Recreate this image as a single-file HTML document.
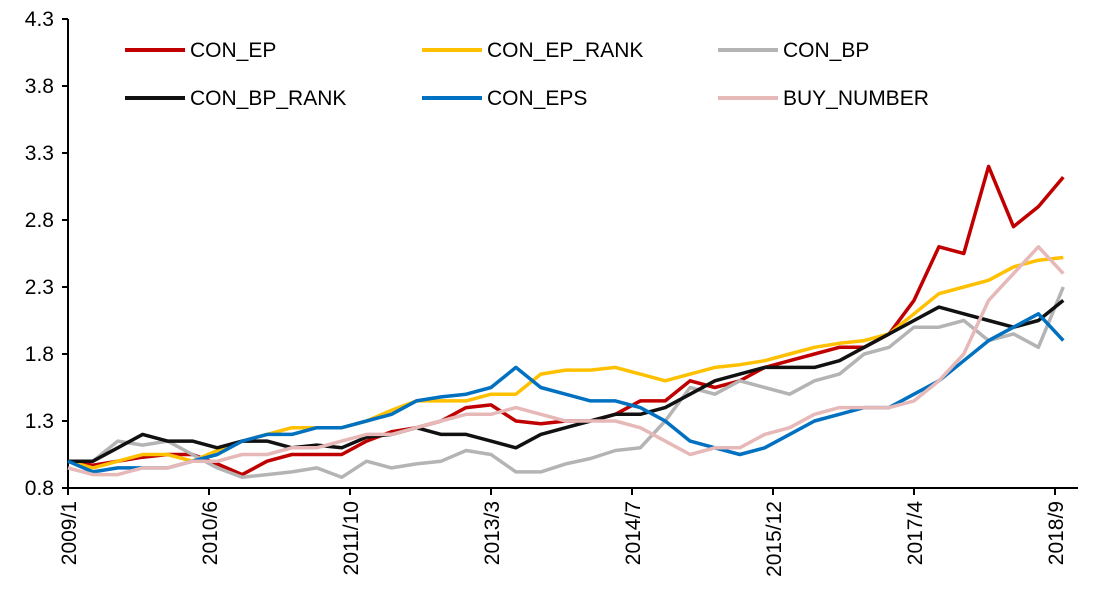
<!DOCTYPE html>
<html><head><meta charset="utf-8"><style>
html,body{margin:0;padding:0;background:#fff;}
svg text{font-family:"Liberation Sans",Arial,sans-serif;fill:#000;}
</style></head><body>
<svg id="chart" width="1095" height="600" xmlns="http://www.w3.org/2000/svg"></svg>
<script>
const yTicks=[0.8,1.3,1.8,2.3,2.8,3.3,3.8,4.3];
const xLabels=["2009/1","2010/6","2011/10","2013/3","2014/7","2015/12","2017/4","2018/9"];
const xLabelMonths=[0,17,34,51,68,85,102,119];
const months=[0,3,6,9,12,15,18,21,24,27,30,33,36,39,42,45,48,51,54,57,60,63,66,69,72,75,78,81,84,87,90,93,96,99,102,105,108,111,114,117,120];
const seriesNames=["CON_EP","CON_EP_RANK","CON_BP","CON_BP_RANK","CON_EPS","BUY_NUMBER"];
const seriesColors=["#c00000","#ffc000","#b4b4b4","#111111","#0070c0","#e6b9b8"];
const conEP=[1.0,0.97,1.0,1.03,1.05,1.05,0.98,0.9,1.0,1.05,1.05,1.05,1.15,1.22,1.25,1.3,1.4,1.42,1.3,1.28,1.3,1.3,1.35,1.45,1.45,1.6,1.55,1.6,1.7,1.75,1.8,1.85,1.85,1.95,2.2,2.6,2.55,3.2,2.75,2.9,3.12];
const conEPRank=[1.0,0.95,1.0,1.05,1.05,1.0,1.08,1.15,1.2,1.25,1.25,1.25,1.3,1.38,1.45,1.45,1.45,1.5,1.5,1.65,1.68,1.68,1.7,1.65,1.6,1.65,1.7,1.72,1.75,1.8,1.85,1.88,1.9,1.95,2.1,2.25,2.3,2.35,2.45,2.5,2.52];
const conBP=[1.0,1.0,1.15,1.12,1.15,1.05,0.95,0.88,0.9,0.92,0.95,0.88,1.0,0.95,0.98,1.0,1.08,1.05,0.92,0.92,0.98,1.02,1.08,1.1,1.3,1.55,1.5,1.6,1.55,1.5,1.6,1.65,1.8,1.85,2.0,2.0,2.05,1.9,1.95,1.85,2.3];
const conBPRank=[1.0,1.0,1.1,1.2,1.15,1.15,1.1,1.15,1.15,1.1,1.12,1.1,1.18,1.2,1.25,1.2,1.2,1.15,1.1,1.2,1.25,1.3,1.35,1.35,1.4,1.5,1.6,1.65,1.7,1.7,1.7,1.75,1.85,1.95,2.05,2.15,2.1,2.05,2.0,2.05,2.2];
const conEPS=[1.0,0.92,0.95,0.95,0.95,1.0,1.05,1.15,1.2,1.2,1.25,1.25,1.3,1.35,1.45,1.48,1.5,1.55,1.7,1.55,1.5,1.45,1.45,1.4,1.3,1.15,1.1,1.05,1.1,1.2,1.3,1.35,1.4,1.4,1.5,1.6,1.75,1.9,2.0,2.1,1.9];
const buyNumber=[0.95,0.9,0.9,0.95,0.95,1.0,1.0,1.05,1.05,1.1,1.1,1.15,1.2,1.2,1.25,1.3,1.35,1.35,1.4,1.35,1.3,1.3,1.3,1.25,1.15,1.05,1.1,1.1,1.2,1.25,1.35,1.4,1.4,1.4,1.45,1.6,1.8,2.2,2.4,2.6,2.4];
const seriesData=[conEP,conEPRank,conBP,conBPRank,conEPS,buyNumber];

const NS="http://www.w3.org/2000/svg";
const svg=document.getElementById('chart');
const X0=68,PX_PER_MONTH=141/17,Y0=488,PX_PER_UNIT=134;
function xs(m){return X0+m*PX_PER_MONTH;}
function ys(v){return Y0-(v-0.8)*PX_PER_UNIT;}
function el(t,a){const e=document.createElementNS(NS,t);for(const k in a)e.setAttribute(k,a[k]);svg.appendChild(e);return e;}

let ya=el('line',{x1:X0,y1:ys(4.3),x2:X0,y2:Y0,stroke:'#000','stroke-width':2});


let xa=el('line',{x1:X0,y1:Y0,x2:1078,y2:Y0,stroke:'#000','stroke-width':2});


yTicks.forEach(v=>{
  const t=el('line',{x1:X0-6,y1:ys(v),x2:X0,y2:ys(v),stroke:'#000','stroke-width':2});
  
  
  const l=el('text',{x:X0-14,y:ys(v)+7,'text-anchor':'end','font-size':21});
  l.textContent=v.toFixed(1);
  
  
});
xLabels.forEach((s,i)=>{
  const x=xs(xLabelMonths[i]);
  const t=el('line',{x1:x,y1:Y0,x2:x,y2:Y0+7,stroke:'#000','stroke-width':2});
  
  
  const l=el('text',{x:0,y:0,'text-anchor':'end','font-size':21,transform:`translate(${x+8},${Y0+13}) rotate(-90)`});
  l.textContent=s;
  
  
});
seriesData.forEach((d,i)=>{
  const pts=d.map((v,j)=>xs(months[j]).toFixed(1)+','+ys(v).toFixed(1)).join(' ');
  const p=el('polyline',{points:pts,fill:'none',stroke:seriesColors[i],'stroke-width':3.5,'stroke-linejoin':'round'});
  
  
});
const legX=[125,422,718],legY=[50,98];
seriesNames.forEach((n,i)=>{
  const x=legX[i%3],y=legY[Math.floor(i/3)];
  const g=el('g',{});
  
  
  const ln=document.createElementNS(NS,'line');
  ln.setAttribute('x1',x);ln.setAttribute('y1',y);ln.setAttribute('x2',x+60);ln.setAttribute('y2',y);
  ln.setAttribute('stroke',seriesColors[i]);ln.setAttribute('stroke-width',4);
  g.appendChild(ln);
  const tx=document.createElementNS(NS,'text');
  tx.setAttribute('x',x+65);tx.setAttribute('y',y+7);tx.setAttribute('font-size',21);
  tx.textContent=n;
  g.appendChild(tx);
});
</script>
</body></html>
